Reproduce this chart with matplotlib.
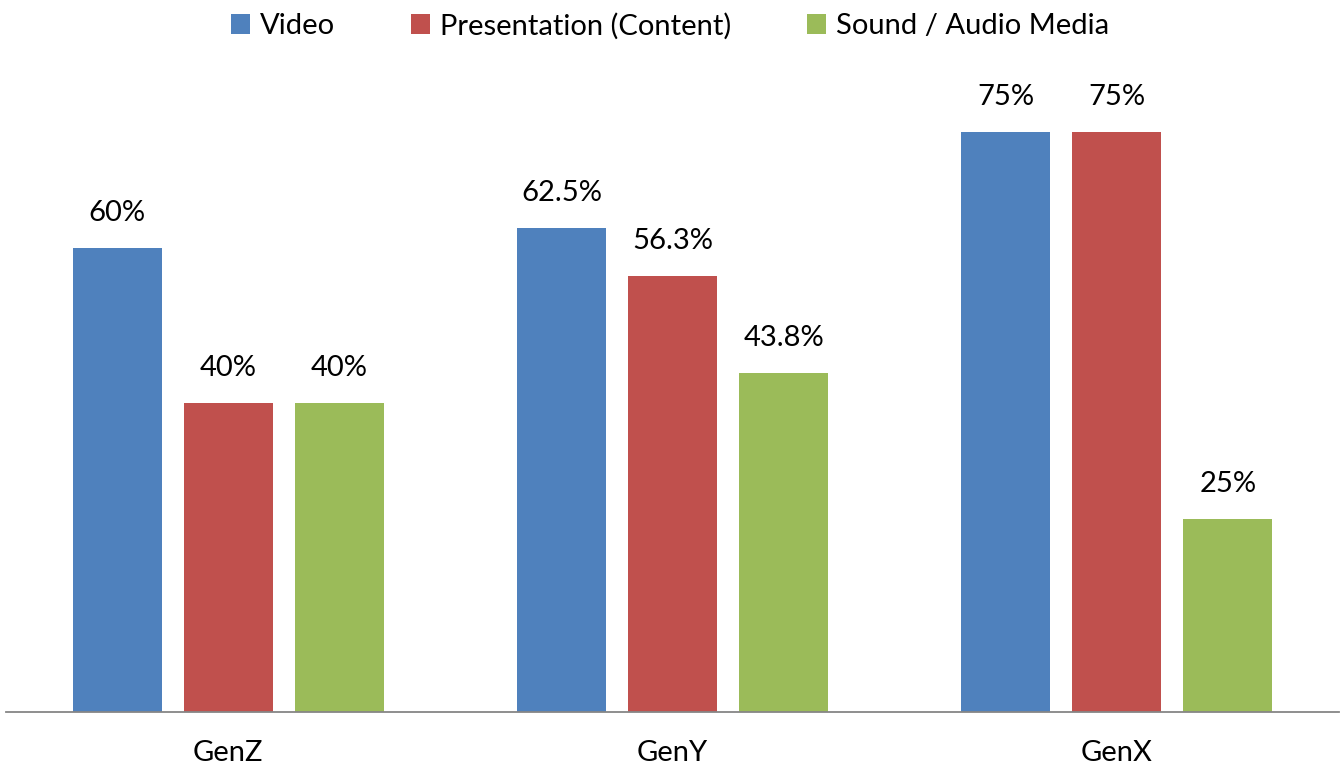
import matplotlib.pyplot as plt
import numpy as np

# datos del grafico
categorias = ["GenZ", "GenY", "GenX"]
series = ["Video", "Presentation (Content)", "Sound / Audio Media"]
video = [60, 62.5, 75]
presentacion = [40, 56.3, 75]
sonido = [40, 43.8, 25]
etiquetas = [["60%", "62.5%", "75%"],
             ["40%", "56.3%", "75%"],
             ["40%", "43.8%", "25%"]]
colores = ["#4F81BD", "#C0504D", "#9BBB59"]

plt.rcParams['font.family'] = ['Lato', 'DejaVu Sans']

fig = plt.figure(figsize=(13.4, 7.71), dpi=100)
ax = fig.add_axes([6/1340, 59/771, 1333/1340, 619/771])

x = np.arange(len(categorias))
ancho = 0.2
desplaz = [-0.25, 0, 0.25]
for i, valores in enumerate([video, presentacion, sonido]):
    barras = ax.bar(x + desplaz[i], valores, ancho, color=colores[i], label=series[i])
    for b, txt in zip(barras, etiquetas[i]):
        ax.annotate(txt, (b.get_x() + b.get_width()/2, b.get_height()),
                    xytext=(0, 22), textcoords='offset pixels',
                    ha='center', va='bottom', fontsize=21)

ax.set_xlim(-0.5, 2.5)
ax.set_ylim(0, 80)
ax.set_xticks(x)
ax.set_xticklabels(categorias, fontsize=21)
ax.tick_params(axis='x', length=0, pad=20)
ax.set_yticks([])
for s in ['top', 'right', 'left']:
    ax.spines[s].set_visible(False)
ax.spines['bottom'].set_color('#868686')
ax.spines['bottom'].set_linewidth(1.3)

fig.legend(loc='center', bbox_to_anchor=(0.5, 1 - 26/771), ncol=3, frameon=False,
           fontsize=21, handlelength=0.65, handleheight=0.65, handletextpad=0.35,
           columnspacing=2.6)

fig.savefig("out.png", dpi=100)
